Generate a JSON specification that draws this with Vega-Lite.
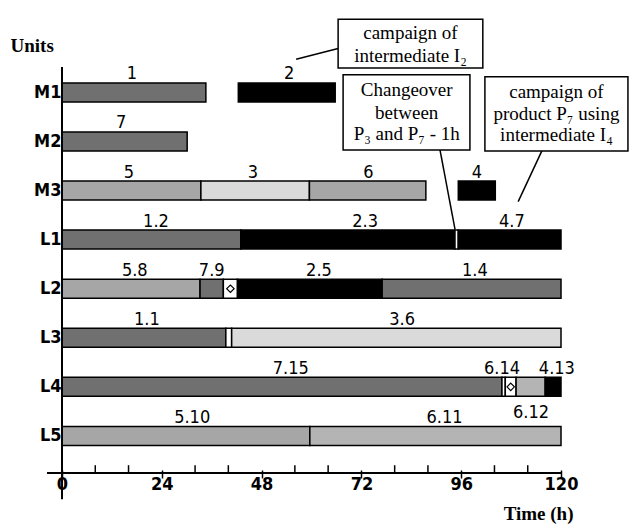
{
  "$schema": "https://vega.github.io/schema/vega-lite/v6.json",
  "width": 499,
  "height": 416,
  "autosize": "none",
  "padding": {"left": 62, "top": 62, "right": 68, "bottom": 46},
  "background": "white",
  "config": {"view": {"stroke": null}},
  "datasets": {
    "bars": [
      {"unit": "M1", "row": 1, "start": 0, "end": 34.6, "kind": "dark"},
      {"unit": "M1", "row": 1, "start": 42.4, "end": 65.7, "kind": "black"},
      {"unit": "M2", "row": 2, "start": 0, "end": 30.1, "kind": "dark"},
      {"unit": "M3", "row": 3, "start": 0, "end": 33.4, "kind": "mid"},
      {"unit": "M3", "row": 3, "start": 33.4, "end": 59.5, "kind": "light"},
      {"unit": "M3", "row": 3, "start": 59.5, "end": 87.5, "kind": "mid"},
      {"unit": "M3", "row": 3, "start": 95.3, "end": 104.2, "kind": "black"},
      {"unit": "L1", "row": 4, "start": 0, "end": 43, "kind": "dark"},
      {"unit": "L1", "row": 4, "start": 43, "end": 94.5, "kind": "black"},
      {"unit": "L1", "row": 4, "start": 94.5, "end": 95.3, "kind": "white"},
      {"unit": "L1", "row": 4, "start": 95.3, "end": 120, "kind": "black"},
      {"unit": "L2", "row": 5, "start": 0, "end": 33.2, "kind": "mid"},
      {"unit": "L2", "row": 5, "start": 33.2, "end": 38.8, "kind": "dark"},
      {"unit": "L2", "row": 5, "start": 38.8, "end": 42.2, "kind": "white"},
      {"unit": "L2", "row": 5, "start": 42.2, "end": 77, "kind": "black"},
      {"unit": "L2", "row": 5, "start": 77, "end": 120, "kind": "dark"},
      {"unit": "L3", "row": 6, "start": 0, "end": 39.4, "kind": "dark"},
      {"unit": "L3", "row": 6, "start": 39.4, "end": 40.8, "kind": "white"},
      {"unit": "L3", "row": 6, "start": 40.8, "end": 120, "kind": "light"},
      {"unit": "L4", "row": 7, "start": 0, "end": 105.8, "kind": "dark"},
      {"unit": "L4", "row": 7, "start": 105.8, "end": 106.6, "kind": "white"},
      {"unit": "L4", "row": 7, "start": 106.6, "end": 109.2, "kind": "white"},
      {"unit": "L4", "row": 7, "start": 109.2, "end": 116.2, "kind": "mid2"},
      {"unit": "L4", "row": 7, "start": 116.2, "end": 120, "kind": "black"},
      {"unit": "L5", "row": 8, "start": 0, "end": 59.6, "kind": "mid"},
      {"unit": "L5", "row": 8, "start": 59.6, "end": 120, "kind": "mid2"}
    ],
    "labels": [
      {"row": 1, "t": 16.8, "label": "1", "pos": "above"},
      {"row": 1, "t": 54.6, "label": "2", "pos": "above"},
      {"row": 2, "t": 14.2, "label": "7", "pos": "above"},
      {"row": 3, "t": 16.1, "label": "5", "pos": "above"},
      {"row": 3, "t": 45.9, "label": "3", "pos": "above"},
      {"row": 3, "t": 73.7, "label": "6", "pos": "above"},
      {"row": 3, "t": 99.8, "label": "4", "pos": "above"},
      {"row": 4, "t": 22.6, "label": "1.2", "pos": "above"},
      {"row": 4, "t": 72.9, "label": "2.3", "pos": "above"},
      {"row": 4, "t": 108.2, "label": "4.7", "pos": "above"},
      {"row": 5, "t": 17.5, "label": "5.8", "pos": "above"},
      {"row": 5, "t": 36, "label": "7.9", "pos": "above"},
      {"row": 5, "t": 61.8, "label": "2.5", "pos": "above"},
      {"row": 5, "t": 99.3, "label": "1.4", "pos": "above"},
      {"row": 6, "t": 20.4, "label": "1.1", "pos": "above"},
      {"row": 6, "t": 81.8, "label": "3.6", "pos": "above"},
      {"row": 7, "t": 55, "label": "7.15", "pos": "above"},
      {"row": 7, "t": 105.8, "label": "6.14", "pos": "above"},
      {"row": 7, "t": 119, "label": "4.13", "pos": "above"},
      {"row": 7, "t": 112.8, "label": "6.12", "pos": "below"},
      {"row": 8, "t": 31.3, "label": "5.10", "pos": "above"},
      {"row": 8, "t": 92, "label": "6.11", "pos": "above"}
    ],
    "hatch": [
      {"row": 5, "t": 40.5},
      {"row": 7, "t": 107.9}
    ],
    "axisLines": [
      {"t": -3.6, "t2": 120, "r": 8.755, "r2": 8.755},
      {"t": 0, "t2": 0, "r": 0.483, "r2": 9.29}
    ],
    "minorTicks": [
      {"t": 8}, {"t": 16}, {"t": 32}, {"t": 40}, {"t": 56}, {"t": 64},
      {"t": 80}, {"t": 88}, {"t": 104}, {"t": 112}
    ],
    "boxes": [
      {"t": 66.4, "t2": 101.2, "r": -0.491, "r2": 0.503},
      {"t": 67.6, "t2": 98.1, "r": 0.642, "r2": 2.173},
      {"t": 101.7, "t2": 136.1, "r": 0.682, "r2": 2.193}
    ],
    "leaders": [
      {"t": 56.3, "t2": 66.4, "r": 0.324, "r2": 0.105},
      {"t": 90.9, "t2": 94.5, "r": 2.173, "r2": 3.784},
      {"t": 115.4, "t2": 109.7, "r": 2.193, "r2": 3.227}
    ],
    "notes": [
      {"t": 83.8, "r": -0.213, "text": "campaign of"},
      {"t": 83.8, "r": 0.264, "text": "intermediate I₂"},
      {"t": 82.9, "r": 0.96, "text": "Changeover"},
      {"t": 82.9, "r": 1.418, "text": "between"},
      {"t": 82.9, "r": 1.855, "text": "P₃ and P₇ - 1h"},
      {"t": 118.9, "r": 1.0, "text": "campaign of"},
      {"t": 118.9, "r": 1.437, "text": "product P₇ using"},
      {"t": 118.9, "r": 1.875, "text": "intermediate I₄"}
    ]
  },
  "layer": [
    {
      "data": {"name": "bars"},
      "mark": {"type": "bar", "size": 19, "stroke": "black", "strokeWidth": 1.5},
      "encoding": {
        "x": {
          "field": "start", "type": "quantitative",
          "scale": {"domain": [0, 120], "nice": false, "zero": false},
          "axis": {
            "values": [0, 24, 48, 72, 96, 120],
            "labelOverlap": false, "labelFlush": false,
            "domain": false, "grid": false,
            "tickSize": -8, "tickColor": "black", "tickWidth": 1.5,
            "labelFont": "DejaVu Sans Condensed", "labelFontWeight": "bold",
            "labelFontSize": 18, "labelColor": "black", "labelPadding": 5,
            "title": "Time (h)",
            "titleFont": "Liberation Serif", "titleFontWeight": "bold", "titleFontSize": 19,
            "titleColor": "black", "titleAnchor": "end", "titleAlign": "right",
            "titleBaseline": "alphabetic", "titleX": 511, "titleY": 41
          }
        },
        "x2": {"field": "end"},
        "y": {
          "field": "row", "type": "quantitative",
          "scale": {"domain": [0.483, 8.755], "reverse": true, "nice": false, "zero": false},
          "axis": {
            "values": [1, 2, 3, 4, 5, 6, 7, 8],
            "labelExpr": "['','M1','M2','M3','L1','L2','L3','L4','L5'][datum.value]",
            "labelOverlap": false,
            "ticks": false, "domain": false, "grid": false,
            "labelFont": "DejaVu Sans Condensed", "labelFontWeight": "bold",
            "labelFontSize": 18, "labelColor": "black", "labelPadding": 1,
            "title": "Units",
            "titleFont": "Liberation Serif", "titleFontWeight": "bold", "titleFontSize": 19,
            "titleColor": "black", "titleAngle": 0, "titleAlign": "left",
            "titleBaseline": "alphabetic", "titleX": -52, "titleY": -11
          }
        },
        "color": {
          "field": "kind", "type": "nominal", "legend": null,
          "scale": {
            "domain": ["dark", "mid", "mid2", "light", "black", "white"],
            "range": ["#707070", "#a6a6a6", "#b4b4b4", "#dadada", "#000000", "#ffffff"]
          }
        }
      }
    },
    {
      "data": {"name": "hatch"},
      "mark": {"type": "point", "shape": "diamond", "size": 55, "filled": false, "stroke": "black", "strokeWidth": 1.2, "opacity": 1},
      "encoding": {
        "x": {"field": "t", "type": "quantitative"},
        "y": {"field": "row", "type": "quantitative"}
      }
    },
    {
      "data": {"name": "labels"},
      "transform": [{"filter": "datum.pos == 'above'"}],
      "mark": {"type": "text", "baseline": "alphabetic", "align": "center", "dy": -13, "font": "DejaVu Sans Condensed", "fontSize": 18, "color": "black"},
      "encoding": {
        "x": {"field": "t", "type": "quantitative"},
        "y": {"field": "row", "type": "quantitative"},
        "text": {"field": "label"}
      }
    },
    {
      "data": {"name": "labels"},
      "transform": [{"filter": "datum.pos == 'below'"}],
      "mark": {"type": "text", "baseline": "alphabetic", "align": "center", "dy": 31, "font": "DejaVu Sans Condensed", "fontSize": 18, "color": "black"},
      "encoding": {
        "x": {"field": "t", "type": "quantitative"},
        "y": {"field": "row", "type": "quantitative"},
        "text": {"field": "label"}
      }
    },
    {
      "data": {"name": "axisLines"},
      "mark": {"type": "rule", "color": "black", "strokeWidth": 2},
      "encoding": {
        "x": {"field": "t", "type": "quantitative"},
        "x2": {"field": "t2"},
        "y": {"field": "r", "type": "quantitative"},
        "y2": {"field": "r2"}
      }
    },
    {
      "data": {"name": "minorTicks"},
      "mark": {"type": "rule", "color": "black", "strokeWidth": 1.5},
      "encoding": {
        "x": {"field": "t", "type": "quantitative"},
        "y": {"datum": 8.755, "type": "quantitative"},
        "y2": {"datum": 8.596}
      }
    },
    {
      "data": {"name": "leaders"},
      "mark": {"type": "rule", "color": "black", "strokeWidth": 1.5},
      "encoding": {
        "x": {"field": "t", "type": "quantitative"},
        "x2": {"field": "t2"},
        "y": {"field": "r", "type": "quantitative"},
        "y2": {"field": "r2"}
      }
    },
    {
      "data": {"name": "boxes"},
      "mark": {"type": "rect", "fill": "white", "stroke": "black", "strokeWidth": 1.5},
      "encoding": {
        "x": {"field": "t", "type": "quantitative"},
        "x2": {"field": "t2"},
        "y": {"field": "r", "type": "quantitative"},
        "y2": {"field": "r2"}
      }
    },
    {
      "data": {"name": "notes"},
      "mark": {"type": "text", "baseline": "middle", "align": "center", "font": "Liberation Serif", "fontSize": 19, "color": "black"},
      "encoding": {
        "x": {"field": "t", "type": "quantitative"},
        "y": {"field": "r", "type": "quantitative"},
        "text": {"field": "text"}
      }
    }
  ]
}
